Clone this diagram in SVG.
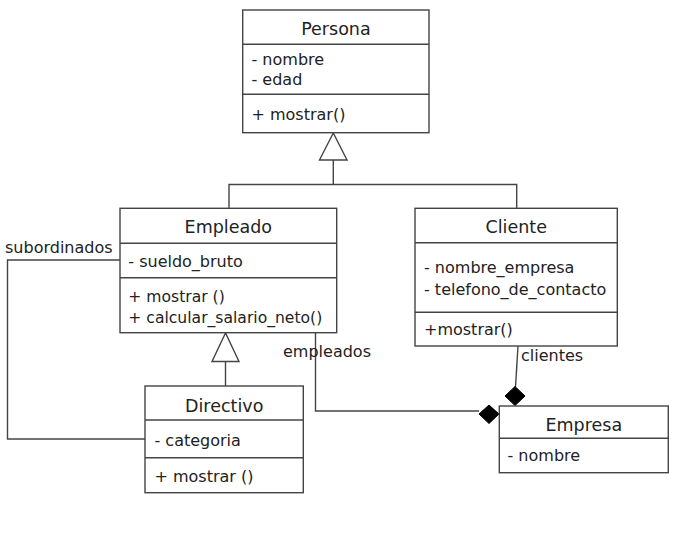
<svg xmlns="http://www.w3.org/2000/svg" width="694" height="539" viewBox="0 0 694 539">
<style>
.box{fill:#fff;stroke:#444;stroke-width:1.4}
.ln{fill:none;stroke:#444;stroke-width:1.4}
.tri{fill:#fff;stroke:#444;stroke-width:1.4}
.dia{fill:#000;stroke:#000;stroke-width:1}
.t{font-family:"DejaVu Sans",Verdana,sans-serif;font-size:17.5px;fill:#222;text-anchor:middle}
.a{font-family:"DejaVu Sans",Verdana,sans-serif;font-size:16px;fill:#222}
.s{font-family:"DejaVu Sans",Verdana,sans-serif;font-size:15.6px;fill:#222}
</style>
<rect width="694" height="539" fill="#fff"/>
<g id="connectors">
  <!-- generalization to Persona -->
  <polyline class="ln" points="229,208 229,184.5 516.7,184.5 516.7,208"/>
  <line class="ln" x1="333.3" y1="160" x2="333.3" y2="184.5"/>
  <polygon class="tri" points="333.3,133 319.5,160 347,160"/>
  <!-- generalization Directivo -> Empleado -->
  <line class="ln" x1="225.5" y1="361.5" x2="225.5" y2="386"/>
  <polygon class="tri" points="225.5,333 212,361.5 239,361.5"/>
  <!-- subordinados -->
  <polyline class="ln" points="120,260 7.5,260 7.5,439 145,439"/>
  <!-- empleados -->
  <polyline class="ln" points="315.5,333 315.5,411 479,411"/>
  <polygon class="dia" points="479,414 489,405 499,414 489,423.5"/>
  <!-- clientes -->
  <line class="ln" x1="518" y1="346" x2="515.5" y2="387"/>
  <polygon class="dia" points="515,386.5 525,396 515,405.5 505,396"/>
  <text class="a" x="5" y="253">subordinados</text>
  <text class="a" x="283" y="357">empleados</text>
  <text class="a" x="521" y="361">clientes</text>
</g>
<g id="Persona">
  <rect class="box" x="242.7" y="10" width="186.3" height="122.7"/>
  <line class="ln" x1="242.7" y1="44.3" x2="429" y2="44.3"/>
  <line class="ln" x1="242.7" y1="94.3" x2="429" y2="94.3"/>
  <text class="t" x="335.9" y="35">Persona</text>
  <text class="a" x="251.5" y="65">- nombre</text>
  <text class="a" x="251.5" y="85">- edad</text>
  <text class="a" x="251.5" y="120">+ mostrar()</text>
</g>
<g id="Empleado">
  <rect class="box" x="120" y="208.3" width="216.7" height="124.4"/>
  <line class="ln" x1="120" y1="243.3" x2="336.7" y2="243.3"/>
  <line class="ln" x1="120" y1="277.7" x2="336.7" y2="277.7"/>
  <text class="t" x="228.3" y="233">Empleado</text>
  <text class="a" x="128.3" y="266.5">- sueldo_bruto</text>
  <text class="s" x="128.3" y="301.5">+ mostrar ()</text>
  <text class="s" x="128.3" y="323">+ calcular_salario_neto()</text>
</g>
<g id="Cliente">
  <rect class="box" x="415" y="208.3" width="202.3" height="137.7"/>
  <line class="ln" x1="415" y1="242.7" x2="617.3" y2="242.7"/>
  <line class="ln" x1="415" y1="312.3" x2="617.3" y2="312.3"/>
  <text class="t" x="516.2" y="233.3">Cliente</text>
  <text class="a" x="424" y="272.7">- nombre_empresa</text>
  <text class="a" x="424" y="295">- telefono_de_contacto</text>
  <text class="a" x="424" y="335">+mostrar()</text>
</g>
<g id="Directivo">
  <rect class="box" x="145" y="386" width="158.3" height="106.7"/>
  <line class="ln" x1="145" y1="420" x2="303.3" y2="420"/>
  <line class="ln" x1="145" y1="457.7" x2="303.3" y2="457.7"/>
  <text class="t" x="224.2" y="411.7">Directivo</text>
  <text class="a" x="154.5" y="446">- categoria</text>
  <text class="a" x="154.5" y="481.7">+ mostrar ()</text>
</g>
<g id="Empresa">
  <rect class="box" x="499.3" y="406" width="169" height="66.7"/>
  <line class="ln" x1="499.3" y1="438.3" x2="668.3" y2="438.3"/>
  <text class="t" x="583.8" y="430.7">Empresa</text>
  <text class="a" x="507.5" y="461">- nombre</text>
</g>
</svg>
